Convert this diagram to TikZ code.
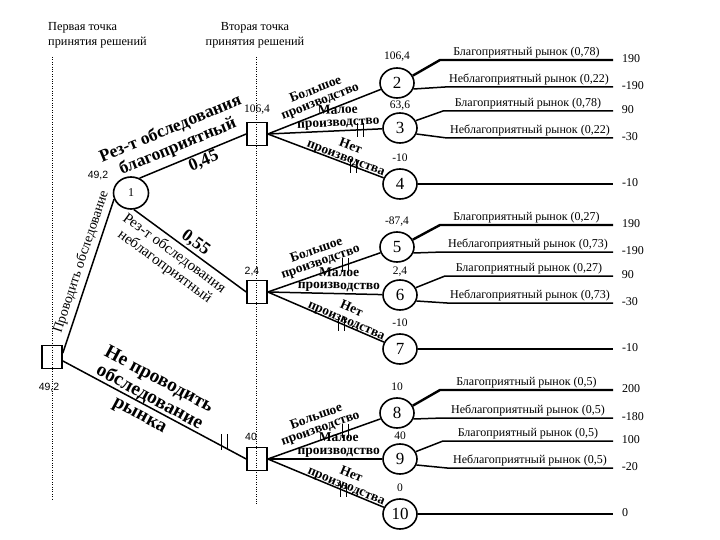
\documentclass[tikz,border=0pt]{standalone}
\usepackage{fontspec}
\setmainfont{Liberation Serif}
\newfontfamily\numfont{Liberation Sans}
\usetikzlibrary{shapes.geometric, positioning, calc}
\tikzstyle{decision} = [rectangle, draw, line width=1.6pt, minimum width=20pt, minimum height=23pt, inner sep=0pt]
\tikzstyle{chance} = [ellipse, draw, line width=1.6pt, minimum width=34pt, minimum height=30pt, inner sep=0pt, font=\fontsize{17}{17}\selectfont]
\tikzstyle{branch} = [line width=1.5pt]
\tikzstyle{bestline} = [line width=2.4pt]
\tikzstyle{cut} = [line width=0.8pt]
\tikzstyle{value} = [font=\fontsize{11.5}{12}\selectfont, inner sep=0pt]
\tikzstyle{sval} = [font=\numfont\fontsize{10.5}{12}\selectfont, inner sep=0pt]
\tikzstyle{payoff} = [font=\fontsize{12}{12}\selectfont, anchor=west, inner sep=0pt, xshift=8pt, yshift=1.5pt]
\tikzstyle{market} = [font=\fontsize{12}{12}\selectfont, inner sep=1pt, above]
\tikzstyle{act} = [font=\bfseries\fontsize{13.5}{12.5}\selectfont, align=center, inner sep=0pt, sloped]
\tikzstyle{bigact} = [font=\bfseries\fontsize{17.5}{19}\selectfont, align=center, inner sep=0pt, sloped]
\tikzstyle{plainact} = [font=\fontsize{14}{16}\selectfont, align=center, inner sep=0pt, sloped]
\tikzstyle{head} = [font=\fontsize{12.3}{15}\selectfont, inner sep=0pt]

\begin{document}
\begin{tikzpicture}[x=1pt, y=-1pt]
\useasboundingbox (0,0) rectangle (720,540);

% decision points
\node (head1) [head, align=left, anchor=north west] at (48,22) {Первая точка\\принятия решений};
\node (head2) [head, align=center, anchor=north] at (255,22) {Вторая точка\\принятия решений};
\draw [dotted] (52,57) -- (52,500);
\draw [dotted] (256.5,57) -- (256.5,505);

% tree nodes
\node (root) [decision] at (52,357) {};
\node (n1) [chance, minimum width=35pt, minimum height=32pt, font=\fontsize{12}{12}\selectfont] at (131,193) {1};
\node (dA) [decision] at (257,134) {};
\node (dB) [decision] at (257,292) {};
\node (dC) [decision] at (257,459) {};
\node (n2) [chance] at (397,83) {2};
\node (n3) [chance] at (400,128) {3};
\node (n4) [chance] at (400,184) {4};
\node (n5) [chance] at (397,247) {5};
\node (n6) [chance] at (400,295) {6};
\node (n7) [chance] at (400,349) {7};
\node (n8) [chance] at (397,413) {8};
\node (n9) [chance] at (400,459) {9};
\node (n10) [chance] at (400,514) {10};

% expected values
\node (vroot) [sval, below=14pt of root, xshift=-3pt] {49,2};
\node (v1) [sval] at ($(n1)+(-33,-17)$) {49,2};
\node (vA) [value, above=7pt of dA] {106,4};
\node (vB) [sval, above=4pt of dB, xshift=-5pt] {2,4};
\node (vC) [sval, above=6pt of dC, xshift=-6pt] {40};
\node (v2) [value, above=6pt of n2] {106,4};
\node (v3) [value, above=2pt of n3] {63,6};
\node (v4) [value, above=6pt of n4] {-10};
\node (v5) [value, above=5pt of n5] {-87,4};
\node (v6) [value, above=3pt of n6] {2,4};
\node (v7) [value, above=6pt of n7] {-10};
\node (v8) [value, above=6pt of n8] {10};
\node (v9) [value, above=3pt of n9] {40};
\node (v10) [value, above=6pt of n10] {0};

% first decision
\draw [branch] (root.20) -- node[plainact, above=4pt, pos=0.57] {Проводить обследование} (n1.200);
\draw [branch] (root.-20) -- node[bigact, font=\bfseries\fontsize{19.5}{20}\selectfont, above=-21pt, pos=0.45] {Не проводить\\обследование\\рынка} (dC.west);
\draw [branch] (n1.60) -- node[bigact, above=5.5pt, pos=0.41] {Рез-т обследования\\благоприятный} node[bigact, below=1pt, pos=0.57] {0,45} (dA.west);
\draw [branch] (n1.-80) -- node[bigact, above=1.5pt, pos=0.5] {0,55} node[plainact, font=\fontsize{15}{16}\selectfont, below=4pt, pos=0.42] {Рез-т обследования\\неблагоприятный} (dB.west);

% second decision
\draw [branch] (dA.east) -- node[act, above=4pt, pos=0.5] {Большое\\производство} (n2);
\draw [branch] (dA.east) -- node[act, above=1pt, pos=0.62] {Малое\\производство} (n3);
\draw [branch] (dA.east) -- node[act, above=-2pt, pos=0.66] {Нет\\производства} (n4);
\draw [branch] (dB.east) -- node[act, above=4pt, pos=0.5] {Большое\\производство} (n5);
\draw [branch] (dB.east) -- node[act, above=1pt, pos=0.62] {Малое\\производство} (n6);
\draw [branch] (dB.east) -- node[act, above=-2pt, pos=0.66] {Нет\\производства} (n7);
\draw [branch] (dC.east) -- node[act, above=4pt, pos=0.5] {Большое\\производство} (n8);
\draw [branch] (dC.east) -- node[act, above=1pt, pos=0.62] {Малое\\производство} (n9);
\draw [branch] (dC.east) -- node[act, above=-2pt, pos=0.66] {Нет\\производства} (n10);

% rejected branches
\draw [cut] ($(root.-20)!0.83!(dC)$) +(-3,-8) -- +(-3,8) +(3,-8) -- +(3,8);
\draw [cut] ($(dA.east)!0.7!(n3)$) +(-3,-7) -- +(-3,7) +(3,-7) -- +(3,7);
\draw [cut] ($(dA.east)!0.65!(n4)$) +(-3,-7) -- +(-3,7) +(3,-7) -- +(3,7);
\draw [cut] ($(dB.east)!0.6!(n5)$) +(-3,-7) -- +(-3,7) +(3,-7) -- +(3,7);
\draw [cut] ($(dB.east)!0.56!(n7)$) +(-3,-7) -- +(-3,7) +(3,-7) -- +(3,7);
\draw [cut] ($(dC.east)!0.6!(n8)$) +(-3,-7) -- +(-3,7) +(3,-7) -- +(3,7);
\draw [cut] ($(dC.east)!0.57!(n10)$) +(-3,-7) -- +(-3,7) +(3,-7) -- +(3,7);

% market outcomes
\coordinate (k2a) at (440,60);  \coordinate (e2a) at (613,60);
\coordinate (k2b) at (445,87);  \coordinate (e2b) at (613,87);
\coordinate (k3a) at (443,111); \coordinate (e3a) at (613,111);
\coordinate (k3b) at (447,138); \coordinate (e3b) at (613,138);
\coordinate (e4) at (613,184);
\coordinate (k5a) at (440,225); \coordinate (e5a) at (613,225);
\coordinate (k5b) at (443,252); \coordinate (e5b) at (613,252);
\coordinate (k6a) at (445,276); \coordinate (e6a) at (613,276);
\coordinate (k6b) at (447,303); \coordinate (e6b) at (613,303);
\coordinate (e7) at (613,349);
\coordinate (k8a) at (440,390); \coordinate (e8a) at (613,390);
\coordinate (k8b) at (443,418); \coordinate (e8b) at (613,418);
\coordinate (k9a) at (443,441); \coordinate (e9a) at (613,441);
\coordinate (k9b) at (447,468); \coordinate (e9b) at (613,468);
\coordinate (e10) at (613,514);

\draw [bestline] (n2.25) -- (k2a) -- node[market] {Благоприятный рынок (0,78)} (e2a) node[payoff] {190};
\draw [branch] (n2.-20) -- (k2b) -- node[market] {Неблагоприятный рынок (0,22)} (e2b) node[payoff] {-190};
\draw [branch] (n3.25) -- (k3a) -- node[market] {Благоприятный рынок (0,78)} (e3a) node[payoff] {90};
\draw [branch] (n3.-20) -- (k3b) -- node[market] {Неблагоприятный рынок (0,22)} (e3b) node[payoff] {-30};
\draw [bestline] (n4.east) -- (e4) node[payoff] {-10};

\draw [bestline] (n5.25) -- (k5a) -- node[market] {Благоприятный рынок (0,27)} (e5a) node[payoff] {190};
\draw [branch] (n5.-20) -- (k5b) -- node[market] {Неблагоприятный рынок (0,73)} (e5b) node[payoff] {-190};
\draw [branch] (n6.25) -- (k6a) -- node[market] {Благоприятный рынок (0,27)} (e6a) node[payoff] {90};
\draw [branch] (n6.-20) -- (k6b) -- node[market] {Неблагоприятный рынок (0,73)} (e6b) node[payoff] {-30};
\draw [bestline] (n7.east) -- (e7) node[payoff] {-10};

\draw [bestline] (n8.25) -- (k8a) -- node[market] {Благоприятный рынок (0,5)} (e8a) node[payoff] {200};
\draw [branch] (n8.-20) -- (k8b) -- node[market] {Неблагоприятный рынок (0,5)} (e8b) node[payoff] {-180};
\draw [branch] (n9.25) -- (k9a) -- node[market] {Благоприятный рынок (0,5)} (e9a) node[payoff] {100};
\draw [branch] (n9.-20) -- (k9b) -- node[market] {Неблагоприятный рынок (0,5)} (e9b) node[payoff] {-20};
\draw [bestline] (n10.east) -- (e10) node[payoff] {0};

\end{tikzpicture}
\end{document}
